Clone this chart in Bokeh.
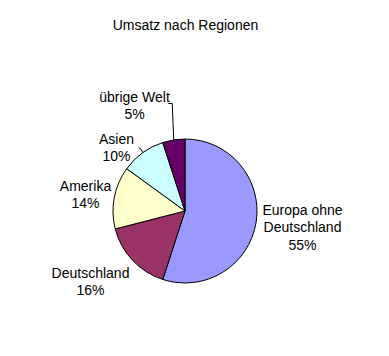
import math
from bokeh.plotting import figure
from bokeh.models import Range1d, ColumnDataSource
from bokeh.core.properties import value
from bokeh.embed import file_html
from bokeh.resources import INLINE

title = "Umsatz nach Regionen"
categories = ["Europa ohne Deutschland", "Deutschland", "Amerika", "Asien", "übrige Welt"]
label_lines = [["Europa ohne", "Deutschland"], ["Deutschland"], ["Amerika"], ["Asien"], ["übrige Welt"]]
values = [55, 16, 14, 10, 5]
colors = ["#9999FF", "#993366", "#FFFFCC", "#CCFFFF", "#660066"]

W, H = 389, 356
FONT = "Liberation Sans"

def Y(py):
    return H - py

p = figure(width=W, height=H, output_backend="svg", toolbar_location=None,
           x_range=Range1d(0, W), y_range=Range1d(0, H), min_border=0)
p.axis.visible = False
p.grid.visible = False
p.outline_line_color = None
p.background_fill_color = "white"
p.border_fill_color = "white"

cx, cy, r = 184.5, 210.5, 72.0
total = sum(values)
starts, ends, cum = [], [], 0
for v in values:
    starts.append(math.pi / 2 - 2 * math.pi * cum / total)
    cum += v
    ends.append(math.pi / 2 - 2 * math.pi * cum / total)

src = ColumnDataSource(dict(start=starts, end=ends, color=colors, cat=categories))
p.wedge(x=cx, y=Y(cy), radius=r, start_angle="start", end_angle="end", direction="clock",
        fill_color="color", line_color="black", line_width=1, source=src)

# label anchor centers (pixel coords, first line)
anchors = [(302, 209), (90, 272), (85, 185), (116, 138), (134, 96)]
lh = 17.5
tx, ty, tt = [], [], []
for lines, v, (ax, ay) in zip(label_lines, values, anchors):
    allines = lines + [f"{v}%"]
    for i, s in enumerate(allines):
        tx.append(ax)
        ty.append(Y(ay + i * lh))
        tt.append(s)
p.text(x=tx, y=ty, text=tt, text_align="center", text_baseline="middle",
       text_font=value(FONT), text_font_size="14px", text_color="black")

p.text(x=[185], y=[Y(24)], text=[title], text_align="center", text_baseline="middle",
       text_font=value(FONT), text_font_size="14px", text_color="black")

# leader lines
def edge(idx, frac=1.0):
    mid = (starts[idx] + ends[idx]) / 2
    return cx + r * frac * math.cos(mid), Y(cy) + r * frac * math.sin(mid)

ex, ey = edge(4)
p.line(x=[ex, ex - 1.5, ex - 5.5], y=[ey, Y(103), Y(103)], line_color="black", line_width=1)
ax_, ay_ = edge(3)
p.line(x=[ax_, ax_ - 1.5, ax_ - 4], y=[ay_, ay_ + 3.5, ay_ + 5], line_color="black", line_width=1)

open("out.html", "w").write(file_html(p, INLINE))
